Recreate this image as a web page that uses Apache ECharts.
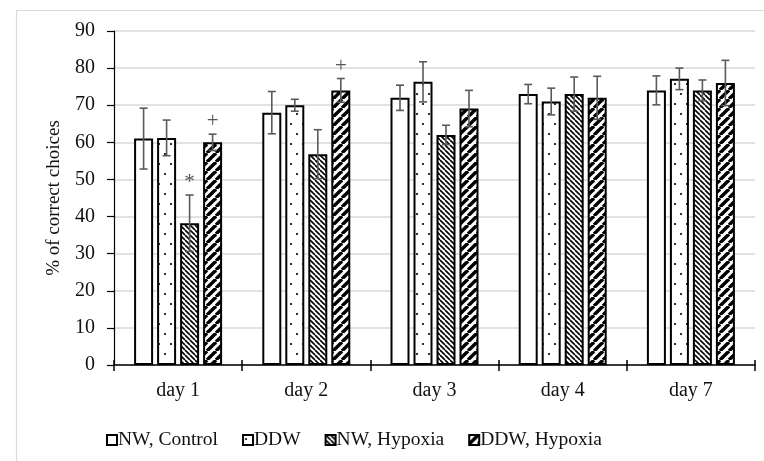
<!DOCTYPE html>
<html>
<head>
<meta charset="utf-8">
<script src="https://cdn.jsdelivr.net/npm/echarts@6/dist/echarts.min.js"></script>
<style>
html,body{margin:0;padding:0;background:#fff;}
#chart{width:764px;height:461px;}
</style>
</head>
<body>
<div id="chart"></div>
<script>
const categories = ['day 1', 'day 2', 'day 3', 'day 4', 'day 7'];
const seriesNames = ['NW, Control', 'DDW', 'NW, Hypoxia', 'DDW, Hypoxia'];
const nwControl   = [61, 68, 72, 73, 74];
const ddw         = [61.2, 70, 76.3, 71, 77.1];
const nwHypoxia   = [38.2, 56.8, 62, 73, 74];
const ddwHypoxia  = [60, 74, 69.1, 72, 76];
const nwControlErr  = [8.2, 5.7, 3.4, 2.6, 3.9];
const ddwErr        = [4.8, 1.6, 5.4, 3.6, 2.9];
const nwHypoxiaErr  = [7.6, 6.6, 2.6, 4.6, 2.8];
const ddwHypoxiaErr = [2.2, 3.2, 4.9, 5.8, 6.1];
const yTicks = [0, 10, 20, 30, 40, 50, 60, 70, 80, 90];
const annotations = [
  { day: 0, group: 2, mark: '*' },
  { day: 0, group: 3, mark: '+' },
  { day: 1, group: 3, mark: '+' }
];

const values = [nwControl, ddw, nwHypoxia, ddwHypoxia];
const errors = [nwControlErr, ddwErr, nwHypoxiaErr, ddwHypoxiaErr];

function makeCanvas(w, h) {
  const c = document.createElement('canvas');
  c.width = w; c.height = h;
  const ctx = c.getContext('2d');
  ctx.fillStyle = '#fff';
  ctx.fillRect(0, 0, w, h);
  return [c, ctx];
}
function dotPattern() {
  const [c, ctx] = makeCanvas(12, 20);
  ctx.fillStyle = '#000';
  ctx.beginPath(); ctx.arc(3, 4, 1.1, 0, Math.PI * 2); ctx.fill();
  ctx.beginPath(); ctx.arc(9, 14, 1.1, 0, Math.PI * 2); ctx.fill();
  return c;
}
function fineHatch() {
  const s = 5;
  const [c, ctx] = makeCanvas(s, s);
  ctx.strokeStyle = '#000';
  ctx.lineWidth = 1.6;
  for (let x = -s; x <= s; x += s) {
    ctx.beginPath(); ctx.moveTo(x, 0); ctx.lineTo(x + s, s); ctx.stroke();
  }
  return c;
}
function thickHatch() {
  const s = 9;
  const [c, ctx] = makeCanvas(s, s);
  ctx.strokeStyle = '#000';
  ctx.lineWidth = 3.4;
  for (let x = -s; x <= s; x += s) {
    ctx.beginPath(); ctx.moveTo(x, s); ctx.lineTo(x + s, 0); ctx.stroke();
  }
  return c;
}
const fills = [
  '#ffffff',
  { image: dotPattern(), repeat: 'repeat' },
  { image: fineHatch(), repeat: 'repeat' },
  { image: thickHatch(), repeat: 'repeat' }
];

const FONT = 'Liberation Serif';
const FS = 20;
const BAR_W = 19, BAR_GAP = 4;
const STEP = BAR_W + BAR_GAP;

const barSeries = seriesNames.map((name, i) => ({
  name: name,
  type: 'bar',
  xAxisIndex: 0,
  barWidth: BAR_W,
  barGap: (BAR_GAP / BAR_W * 100) + '%',
  data: values[i],
  itemStyle: { color: fills[i], borderColor: '#000', borderWidth: 2 },
  emphasis: { disabled: true },
  z: 2
}));

const errData = [];
values.forEach((arr, g) => arr.forEach((v, d) => errData.push([d, v, errors[g][d], g])));

const errorSeries = {
  type: 'custom',
  name: 'err',
  data: errData,
  z: 5,
  silent: true,
  renderItem: function (params, api) {
    const d = api.value(0), v = api.value(1), e = api.value(2), g = api.value(3);
    const cx = api.coord([d, 0])[0] + (g - 1.5) * STEP;
    const yt = api.coord([d, v + e])[1];
    const yb = api.coord([d, v - e])[1];
    const st = { stroke: '#5a5a5a', lineWidth: 1.6 };
    const cap = 4;
    return {
      type: 'group',
      children: [
        { type: 'line', shape: { x1: cx, y1: yt, x2: cx, y2: yb }, style: st },
        { type: 'line', shape: { x1: cx - cap, y1: yt, x2: cx + cap, y2: yt }, style: st },
        { type: 'line', shape: { x1: cx - cap, y1: yb, x2: cx + cap, y2: yb }, style: st }
      ]
    };
  },
  encode: { x: 0, y: 1 }
};

const annData = annotations.map(a => [a.day, values[a.group][a.day] + errors[a.group][a.day], a.group, a.mark]);
const annSeries = {
  type: 'custom',
  name: 'ann',
  data: annData,
  z: 6,
  silent: true,
  renderItem: function (params, api) {
    const d = api.value(0), top = api.value(1), g = api.value(2);
    const mark = annData[params.dataIndex][3];
    const cx = api.coord([d, 0])[0] + (g - 1.5) * STEP;
    const y = api.coord([d, top])[1];
    return {
      type: 'text',
      style: {
        x: cx, y: y - 2, text: mark,
        align: 'center', verticalAlign: 'bottom',
        font: '21px "' + FONT + '"', fill: '#555'
      }
    };
  },
  encode: { x: 0, y: 1 }
};

const chart = echarts.init(document.getElementById('chart'), null, { renderer: 'canvas' });
chart.setOption({
  animation: false,
  backgroundColor: '#fff',
  graphic: [{
    type: 'rect', left: 14, top: 8,
    shape: { x: 0, y: 0, width: 800, height: 500 },
    style: { fill: 'none', stroke: '#d9d9d9', lineWidth: 1.2 },
    silent: true, z: -1
  }],
  grid: { left: 114, right: 9, top: 31, bottom: 96, containLabel: false },
  legend: {
    data: seriesNames,
    icon: 'rect',
    left: 101, top: 425,
    itemWidth: 10, itemHeight: 10, itemGap: 24,
    textStyle: { fontFamily: FONT, fontSize: 19.5, color: '#111', padding: [0, 0, 0, -4] },
    selectedMode: false
  },
  xAxis: [{
    type: 'category',
    data: categories,
    axisLine: { lineStyle: { color: '#000', width: 1.5 } },
    axisTick: { show: true, length: 6, lineStyle: { color: '#000', width: 1.5 } },
    axisLabel: { fontFamily: FONT, fontSize: FS, color: '#111', margin: 16 },
    splitLine: { show: false }
  }, {
    type: 'category',
    data: categories,
    position: 'bottom',
    axisLine: { show: false },
    axisTick: { show: true, inside: true, length: 5, lineStyle: { color: '#000', width: 1.5 } },
    axisLabel: { show: false },
    splitLine: { show: false }
  }],
  yAxis: {
    type: 'value',
    min: yTicks[0], max: yTicks[yTicks.length - 1], interval: 10,
    name: '% of correct choices',
    nameLocation: 'middle',
    nameGap: 50,
    nameTextStyle: { fontFamily: FONT, fontSize: 19, color: '#111' },
    axisLine: { show: true, lineStyle: { color: '#000', width: 1.2 } },
    axisTick: { show: true, length: 7, lineStyle: { color: '#000', width: 1.2 } },
    axisLabel: { fontFamily: FONT, fontSize: FS, color: '#111', margin: 19 },
    splitLine: { lineStyle: { color: '#d9d9d9', width: 1.5 } }
  },
  series: barSeries.concat([errorSeries, annSeries])
});
</script>
</body>
</html>
